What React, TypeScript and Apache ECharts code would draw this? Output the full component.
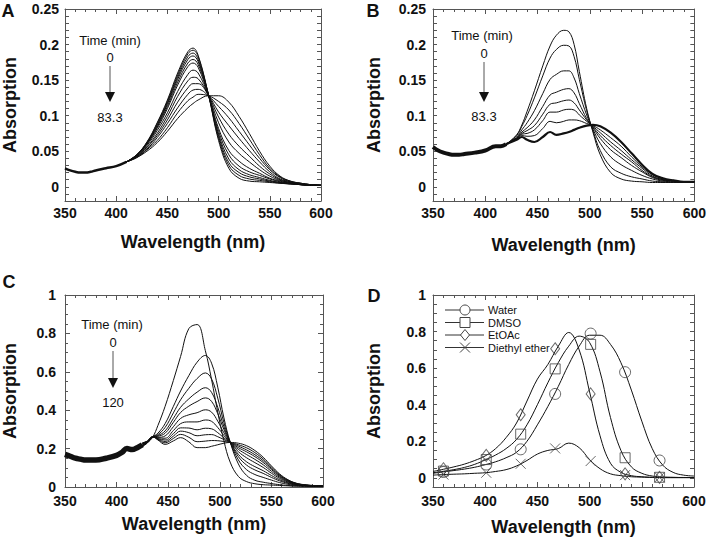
import React, { useEffect, useRef } from "react";
import * as echarts from "echarts";

const FONT = "'Liberation Sans', Arial, Helvetica, sans-serif";

// ---------- Panel A ----------
const baseWlA = [350, 355, 360, 365, 370, 375, 380, 390, 400, 410];
const baseA = [0.026, 0.023, 0.021, 0.02, 0.02, 0.021, 0.023, 0.026, 0.029, 0.035];
const wlA = [410, 420, 430, 440, 450, 460, 470, 475, 480, 490, 500, 510, 520, 530, 540, 550, 560, 570, 580, 590, 600];
const curvesA = [
  [0.035, 0.045, 0.063, 0.09, 0.122, 0.16, 0.19, 0.195, 0.185, 0.13, 0.065, 0.026, 0.012, 0.008, 0.007, 0.006, 0.005, 0.004, 0.003, 0.002, 0.002],
  [0.035, 0.045, 0.062, 0.089, 0.12, 0.157, 0.187, 0.192, 0.183, 0.13, 0.068, 0.03, 0.016, 0.011, 0.009, 0.007, 0.005, 0.004, 0.003, 0.002, 0.002],
  [0.035, 0.045, 0.062, 0.087, 0.118, 0.154, 0.183, 0.188, 0.179, 0.13, 0.071, 0.034, 0.02, 0.014, 0.011, 0.008, 0.006, 0.004, 0.003, 0.002, 0.002],
  [0.035, 0.044, 0.061, 0.086, 0.116, 0.151, 0.179, 0.184, 0.176, 0.13, 0.074, 0.039, 0.024, 0.017, 0.013, 0.009, 0.006, 0.005, 0.003, 0.002, 0.002],
  [0.035, 0.044, 0.06, 0.084, 0.113, 0.147, 0.174, 0.179, 0.172, 0.13, 0.078, 0.045, 0.029, 0.021, 0.016, 0.011, 0.007, 0.005, 0.003, 0.002, 0.002],
  [0.035, 0.044, 0.06, 0.082, 0.11, 0.143, 0.169, 0.174, 0.168, 0.129, 0.082, 0.051, 0.036, 0.026, 0.019, 0.012, 0.008, 0.005, 0.004, 0.002, 0.002],
  [0.035, 0.043, 0.058, 0.079, 0.104, 0.134, 0.158, 0.164, 0.16, 0.129, 0.09, 0.063, 0.047, 0.035, 0.024, 0.015, 0.009, 0.006, 0.004, 0.002, 0.002],
  [0.035, 0.043, 0.056, 0.075, 0.099, 0.127, 0.149, 0.154, 0.152, 0.129, 0.098, 0.074, 0.057, 0.043, 0.029, 0.018, 0.01, 0.006, 0.004, 0.003, 0.002],
  [0.035, 0.042, 0.055, 0.072, 0.094, 0.119, 0.139, 0.145, 0.145, 0.129, 0.105, 0.086, 0.068, 0.051, 0.035, 0.021, 0.011, 0.007, 0.004, 0.003, 0.002],
  [0.035, 0.042, 0.053, 0.069, 0.089, 0.111, 0.13, 0.136, 0.137, 0.128, 0.113, 0.097, 0.078, 0.059, 0.04, 0.024, 0.013, 0.007, 0.005, 0.003, 0.002],
  [0.035, 0.041, 0.052, 0.065, 0.083, 0.104, 0.121, 0.126, 0.13, 0.128, 0.12, 0.108, 0.089, 0.067, 0.045, 0.026, 0.014, 0.008, 0.005, 0.003, 0.002],
  [0.035, 0.041, 0.05, 0.062, 0.078, 0.096, 0.111, 0.117, 0.122, 0.128, 0.128, 0.119, 0.099, 0.075, 0.05, 0.029, 0.015, 0.008, 0.005, 0.003, 0.002],
];

// ---------- Panel B ----------
const baseWlB = [350, 355, 360, 365, 370, 375, 380, 390, 400, 410, 415, 420];
const baseB = [0.056, 0.051, 0.048, 0.046, 0.045, 0.045, 0.046, 0.048, 0.051, 0.057, 0.057, 0.06];
const wlB = [420, 430, 435, 440, 447, 455, 462, 468, 475, 480, 485, 490, 497, 503, 510, 520, 530, 540, 550, 560, 570, 580, 590, 600];
const curvesB = [
  [0.06, 0.073, 0.087, 0.106, 0.135, 0.17, 0.198, 0.213, 0.22, 0.218, 0.2, 0.162, 0.11, 0.077, 0.045, 0.02, 0.011, 0.008, 0.007, 0.006, 0.006, 0.006, 0.006, 0.007],
  [0.06, 0.072, 0.085, 0.1, 0.125, 0.156, 0.181, 0.193, 0.199, 0.198, 0.183, 0.151, 0.107, 0.079, 0.051, 0.028, 0.019, 0.014, 0.011, 0.008, 0.007, 0.006, 0.006, 0.007],
  [0.06, 0.07, 0.08, 0.09, 0.107, 0.131, 0.151, 0.158, 0.163, 0.163, 0.153, 0.131, 0.101, 0.081, 0.061, 0.042, 0.031, 0.023, 0.016, 0.011, 0.008, 0.007, 0.006, 0.007],
  [0.06, 0.069, 0.077, 0.083, 0.094, 0.113, 0.129, 0.133, 0.137, 0.138, 0.132, 0.117, 0.096, 0.083, 0.068, 0.052, 0.041, 0.03, 0.021, 0.013, 0.009, 0.008, 0.007, 0.007],
  [0.06, 0.068, 0.075, 0.079, 0.086, 0.102, 0.116, 0.118, 0.121, 0.122, 0.118, 0.108, 0.094, 0.084, 0.072, 0.058, 0.046, 0.035, 0.023, 0.014, 0.01, 0.008, 0.007, 0.007],
  [0.06, 0.068, 0.074, 0.075, 0.08, 0.093, 0.105, 0.105, 0.108, 0.109, 0.108, 0.101, 0.092, 0.085, 0.076, 0.063, 0.051, 0.038, 0.026, 0.015, 0.01, 0.008, 0.007, 0.007],
  [0.06, 0.067, 0.072, 0.071, 0.072, 0.082, 0.092, 0.09, 0.092, 0.094, 0.094, 0.093, 0.089, 0.086, 0.08, 0.069, 0.057, 0.042, 0.028, 0.017, 0.011, 0.009, 0.007, 0.007],
  [0.06, 0.066, 0.07, 0.066, 0.063, 0.07, 0.077, 0.073, 0.075, 0.077, 0.08, 0.083, 0.086, 0.087, 0.085, 0.076, 0.063, 0.047, 0.031, 0.018, 0.012, 0.009, 0.007, 0.007],
];

// ---------- Panel C ----------
const baseWlC = [350, 355, 360, 365, 370, 380, 390, 400, 405, 410, 415, 420, 425];
const baseC = [0.17, 0.16, 0.15, 0.145, 0.14, 0.14, 0.15, 0.165, 0.18, 0.2, 0.195, 0.205, 0.22];
const wlC = [425, 430, 435, 440, 447, 455, 462, 470, 478, 486, 492, 498, 504, 510, 518, 526, 534, 542, 550, 558, 566, 574, 582, 590, 600];
const curvesC = [
  [0.215, 0.232, 0.26, 0.32, 0.42, 0.555, 0.68, 0.825, 0.846, 0.71, 0.56, 0.39, 0.24, 0.13, 0.055, 0.028, 0.017, 0.012, 0.01, 0.008, 0.006, 0.005, 0.004, 0.003, 0.002],
  [0.21, 0.23, 0.26, 0.28, 0.33, 0.42, 0.5, 0.58, 0.65, 0.685, 0.645, 0.52, 0.36, 0.235, 0.12, 0.06, 0.035, 0.025, 0.018, 0.012, 0.008, 0.005, 0.004, 0.003, 0.003],
  [0.214, 0.232, 0.26, 0.273, 0.31, 0.386, 0.454, 0.514, 0.565, 0.594, 0.563, 0.463, 0.335, 0.235, 0.141, 0.09, 0.065, 0.05, 0.036, 0.023, 0.014, 0.008, 0.006, 0.004, 0.004],
  [0.217, 0.234, 0.261, 0.268, 0.292, 0.357, 0.415, 0.459, 0.494, 0.517, 0.493, 0.415, 0.314, 0.234, 0.158, 0.114, 0.089, 0.071, 0.05, 0.032, 0.019, 0.01, 0.007, 0.005, 0.004],
  [0.219, 0.235, 0.261, 0.264, 0.28, 0.337, 0.388, 0.421, 0.445, 0.464, 0.446, 0.382, 0.299, 0.234, 0.17, 0.131, 0.106, 0.085, 0.06, 0.038, 0.022, 0.012, 0.008, 0.005, 0.004],
  [0.222, 0.236, 0.261, 0.259, 0.266, 0.314, 0.357, 0.376, 0.387, 0.402, 0.39, 0.343, 0.282, 0.233, 0.184, 0.152, 0.127, 0.102, 0.072, 0.045, 0.026, 0.014, 0.009, 0.006, 0.005],
  [0.224, 0.237, 0.261, 0.256, 0.254, 0.294, 0.33, 0.339, 0.339, 0.349, 0.342, 0.31, 0.268, 0.233, 0.196, 0.169, 0.144, 0.116, 0.082, 0.051, 0.029, 0.016, 0.01, 0.007, 0.005],
  [0.226, 0.238, 0.262, 0.252, 0.245, 0.278, 0.308, 0.307, 0.298, 0.306, 0.303, 0.283, 0.256, 0.233, 0.205, 0.183, 0.158, 0.128, 0.091, 0.056, 0.032, 0.017, 0.01, 0.007, 0.005],
  [0.227, 0.239, 0.262, 0.25, 0.237, 0.265, 0.291, 0.283, 0.267, 0.272, 0.273, 0.262, 0.247, 0.232, 0.213, 0.193, 0.168, 0.137, 0.097, 0.06, 0.034, 0.018, 0.011, 0.007, 0.005],
  [0.229, 0.239, 0.262, 0.247, 0.23, 0.253, 0.274, 0.259, 0.236, 0.239, 0.242, 0.241, 0.237, 0.232, 0.22, 0.204, 0.179, 0.146, 0.104, 0.064, 0.036, 0.019, 0.011, 0.008, 0.006],
  [0.23, 0.24, 0.262, 0.245, 0.222, 0.24, 0.257, 0.235, 0.205, 0.205, 0.212, 0.22, 0.228, 0.232, 0.228, 0.215, 0.19, 0.155, 0.11, 0.068, 0.038, 0.02, 0.012, 0.008, 0.006],
];

// ---------- Panel D ----------
const wlD = [350, 360, 370, 380, 390, 400, 410, 420, 430, 440, 450, 460, 470, 480, 490, 500, 510, 520, 530, 540, 550, 560, 570, 580, 590, 600];
const waterD = [0.025, 0.033, 0.04, 0.048, 0.058, 0.072, 0.088, 0.11, 0.14, 0.2, 0.29, 0.39, 0.5, 0.62, 0.72, 0.78, 0.78, 0.73, 0.63, 0.48, 0.31, 0.16, 0.07, 0.03, 0.015, 0.01];
const dmsoD = [0.028, 0.036, 0.045, 0.057, 0.074, 0.098, 0.125, 0.16, 0.21, 0.29, 0.4, 0.52, 0.63, 0.72, 0.775, 0.74, 0.58, 0.33, 0.15, 0.06, 0.025, 0.01, 0.005, 0.003, 0.002, 0.002];
const etoacD = [0.035, 0.047, 0.06, 0.075, 0.095, 0.12, 0.16, 0.22, 0.3, 0.42, 0.54, 0.62, 0.72, 0.795, 0.7, 0.47, 0.23, 0.08, 0.03, 0.012, 0.006, 0.003, 0.002, 0.002, 0.002, 0.002];
const etherD = [0.015, 0.018, 0.02, 0.022, 0.025, 0.028, 0.035, 0.045, 0.065, 0.095, 0.13, 0.15, 0.16, 0.19, 0.165, 0.1, 0.05, 0.022, 0.012, 0.006, 0.004, 0.002, 0.001, 0.001, 0.001, 0.001];
const markWl = [360, 401, 434, 467, 501, 534, 567];
const waterMk = [0.032, 0.073, 0.156, 0.459, 0.789, 0.578, 0.095];
const dmsoMk = [0.037, 0.1, 0.239, 0.596, 0.73, 0.11, 0.003];
const etoacMk = [0.05, 0.123, 0.345, 0.706, 0.459, 0.022, 0.003];
const etherMk = [0.018, 0.028, 0.077, 0.161, 0.092, 0.015, 0.003];
const solventNames = ["Water", "DMSO", "EtOAc", "Diethyl ether"];

const xTicks = { min: 350, max: 600, interval: 50 };
const timeLabelsAB = ["0", "83.3"];
const timeLabelsC = ["0", "120"];

const AX = "#555";
const INK = "#111";

function xAxesFor(g: number, margin: number, nameGap: number) {
  const mk = () => ({
    type: "value",
    gridIndex: g,
    min: xTicks.min,
    max: xTicks.max,
    interval: xTicks.interval,
    axisLine: { show: true, onZero: false, lineStyle: { color: AX, width: 1 } },
    axisTick: { show: true, inside: true, length: 5, lineStyle: { color: AX } },
    minorTick: { show: true, splitNumber: 5, length: 3, lineStyle: { color: AX } },
    splitLine: { show: false },
  });
  return [
    {
      ...mk(),
      position: "bottom",
      axisLabel: { margin, fontSize: 14, fontWeight: "bold", color: INK, fontFamily: FONT, showMinLabel: true, showMaxLabel: true },
      name: "Wavelength (nm)",
      nameLocation: "middle",
      nameGap,
      nameTextStyle: { fontSize: 18, fontWeight: "bold", color: INK, fontFamily: FONT },
    },
    { ...mk(), position: "top", axisLabel: { show: false } },
  ];
}

function yAxesFor(g: number, cfg: any, margin: number, nameGap: number) {
  const mk = () => ({
    type: "value",
    gridIndex: g,
    min: cfg.min,
    max: cfg.max,
    interval: cfg.interval,
    axisLine: { show: true, onZero: false, lineStyle: { color: AX, width: 1 } },
    axisTick: { show: true, inside: true, length: cfg.tickLen, lineStyle: { color: AX } },
    minorTick: { show: !!cfg.minor, splitNumber: cfg.minor || 5, length: 3, lineStyle: { color: AX } },
    splitLine: { show: false },
  });
  return [
    {
      ...mk(),
      position: "left",
      axisLabel: {
        margin,
        fontSize: 14,
        fontWeight: "bold",
        color: INK,
        fontFamily: FONT,
        showMinLabel: true,
        showMaxLabel: true,
        formatter: cfg.formatter,
      },
      name: "Absorption",
      nameLocation: "middle",
      nameGap,
      nameRotate: 90,
      nameTextStyle: { fontSize: 18, fontWeight: "bold", color: INK, fontFamily: FONT },
    },
    { ...mk(), position: "right", axisLabel: { show: false } },
  ];
}

const fmtStep = (step: number) => (v: number) => {
  const k = Math.round(v * 100);
  return k >= 0 && k % step === 0 ? String(k / 100) : "";
};

function lineSeries(curves: number[][], wl: number[], g: number, width = 1, color = INK) {
  return curves.map((arr) => ({
    type: "line",
    xAxisIndex: 2 * g,
    yAxisIndex: 2 * g,
    data: wl.map((w, i) => [w, arr[i]]),
    showSymbol: false,
    symbol: "none",
    smooth: 0.4,
    silent: true,
    lineStyle: { color, width },
  }));
}

function markSeries(vals: number[], g: number, symbol: string, size: any) {
  return {
    type: "scatter",
    xAxisIndex: 2 * g,
    yAxisIndex: 2 * g,
    data: markWl.map((w, i) => [w, vals[i]]),
    symbol,
    symbolSize: size,
    silent: true,
    itemStyle: { color: "rgba(0,0,0,0)", borderColor: "#444", borderWidth: 1 },
    z: 5,
  };
}

function txt(text: string, x: number, y: number, size: number, bold = false) {
  return {
    type: "text",
    x,
    y,
    silent: true,
    style: {
      text,
      fill: INK,
      fontSize: size,
      fontWeight: bold ? "bold" : "normal",
      fontFamily: FONT,
      align: "center",
      verticalAlign: "middle",
    },
  };
}

function arrow(x: number, y1: number, y2: number) {
  return [
    { type: "line", silent: true, shape: { x1: x, y1, x2: x, y2: y2 - 6 }, style: { stroke: "#555", lineWidth: 1 } },
    { type: "polygon", silent: true, shape: { points: [[x - 5, y2 - 10], [x + 5, y2 - 10], [x, y2]] }, style: { fill: INK } },
  ];
}

function legendRow(i: number, y: number) {
  const cx = 465;
  const els: any[] = [
    { type: "line", silent: true, shape: { x1: 445, y1: y, x2: 484, y2: y }, style: { stroke: "#333", lineWidth: 1 } },
  ];
  const st = { fill: "#fff", stroke: "#444", lineWidth: 1 };
  if (i === 0) els.push({ type: "circle", silent: true, shape: { cx, cy: y, r: 5 }, style: st });
  if (i === 1) els.push({ type: "rect", silent: true, shape: { x: cx - 5, y: y - 5, width: 10, height: 10 }, style: st });
  if (i === 2)
    els.push({ type: "polygon", silent: true, shape: { points: [[cx, y - 5.5], [cx + 4.5, y], [cx, y + 5.5], [cx - 4.5, y]] }, style: st });
  if (i === 3) {
    els.push({ type: "line", silent: true, shape: { x1: cx - 5, y1: y - 5, x2: cx + 5, y2: y + 5 }, style: { stroke: "#444", lineWidth: 1 } });
    els.push({ type: "line", silent: true, shape: { x1: cx - 5, y1: y + 5, x2: cx + 5, y2: y - 5 }, style: { stroke: "#444", lineWidth: 1 } });
  }
  els.push({
    type: "text",
    x: 488,
    y,
    silent: true,
    style: { text: solventNames[i], fill: INK, fontSize: 11, fontFamily: FONT, align: "left", verticalAlign: "middle" },
  });
  return els;
}

export default function App() {
  const ref = useRef<HTMLDivElement>(null);
  useEffect(() => {
    if (!ref.current) return;
    const chart = echarts.init(ref.current, null, { renderer: "svg" });
    const yA = { min: -0.02, max: 0.25, interval: 0.01, tickLen: 4, formatter: fmtStep(5) };
    const yC = { min: 0, max: 1, interval: 0.2, tickLen: 5, minor: 4 };
    const yD = { min: -0.05, max: 1, interval: 0.05, tickLen: 4, formatter: fmtStep(20) };

    const option: any = {
      animation: false,
      grid: [
        { left: 63, top: 9, width: 258, height: 192 },
        { left: 433, top: 9, width: 263, height: 192 },
        { left: 63, top: 295, width: 260, height: 192 },
        { left: 433, top: 295, width: 261, height: 192 },
      ],
      xAxis: [...xAxesFor(0, 5, 32), ...xAxesFor(1, 5, 35), ...xAxesFor(2, 7, 28), ...xAxesFor(3, 7, 31)],
      yAxis: [...yAxesFor(0, yA, 6, 46), ...yAxesFor(1, yA, 7, 50), ...yAxesFor(2, yC, 9, 46), ...yAxesFor(3, yD, 7, 50)],
      series: [
        ...lineSeries([baseA], baseWlA, 0, 2.5),
        ...lineSeries(curvesA, wlA, 0, 1),
        ...lineSeries([baseB], baseWlB, 1, 4),
        ...lineSeries(curvesB.slice(0, curvesB.length - 1), wlB, 1, 1),
        ...lineSeries([curvesB[curvesB.length - 1]], wlB, 1, 2.2),
        ...lineSeries([baseC], baseWlC, 2, 5.5),
        ...lineSeries(curvesC, wlC, 2, 1),
        ...lineSeries([waterD, dmsoD, etoacD, etherD], wlD, 3, 1),
        markSeries(waterMk, 3, "circle", 11),
        markSeries(dmsoMk, 3, "rect", 10),
        markSeries(etoacMk, 3, "diamond", [9, 12]),
        markSeries(etherMk, 3, "path://M0 0L10 10M10 0L0 10", 10),
      ],
      graphic: [
        txt("A", 8, 11, 18, true),
        txt("B", 373, 11, 18, true),
        txt("C", 9, 282, 18, true),
        txt("D", 374, 296, 18, true),
        txt("Time (min)", 110, 40, 13),
        txt(timeLabelsAB[0], 110, 57, 13),
        ...arrow(110, 66, 102),
        txt(timeLabelsAB[1], 110, 117, 13),
        txt("Time (min)", 482, 35, 13),
        txt(timeLabelsAB[0], 484, 53, 13),
        ...arrow(484, 62, 102),
        txt(timeLabelsAB[1], 484, 116, 13),
        txt("Time (min)", 112, 324, 13),
        txt(timeLabelsC[0], 113, 342, 13),
        ...arrow(113, 351, 388),
        txt(timeLabelsC[1], 113, 402, 13),
        ...legendRow(0, 310),
        ...legendRow(1, 322.5),
        ...legendRow(2, 335),
        ...legendRow(3, 347.5),
      ],
    };
    chart.setOption(option);
    return () => chart.dispose();
  }, []);
  return <div ref={ref} style={{ position: "absolute", left: 0, top: 0, width: 709, height: 542 }} />;
}
